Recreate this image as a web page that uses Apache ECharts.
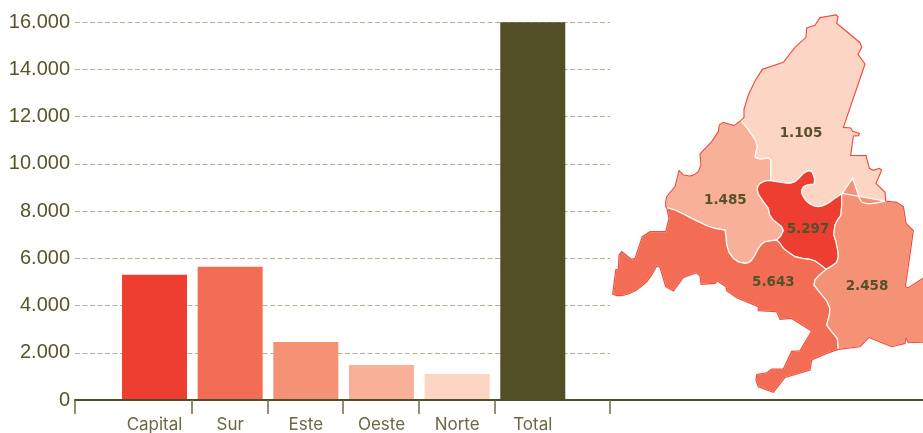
<!DOCTYPE html>
<html><head><meta charset="utf-8">
<style>html,body{margin:0;background:#fff}#c{width:923px;height:433px}</style>
<script src="https://cdn.jsdelivr.net/npm/echarts@6/dist/echarts.min.js"></script>
</head><body><div id="c"></div>
<script>
const categories = ['Capital','Sur','Este','Oeste','Norte','Total'];
const values = [5297,5643,2458,1485,1105,15988];
const barColors = ['#ee3e32','#f26d54','#f59175','#f9b098','#fcd5c4','#524f26'];
const yTicks = {min:0,max:16000,interval:2000};
const axisTickPositions = [0,117,193,268,344,420,535];

// Map outlines, in map units (3 units = 1 px)
const norteOuter = [[422,362],[432,352],[432,328],[445,285],[465,243],[487,208],[550,187],[585,142],[618,112],[620,84],[645,76],[660,53],[708,45],[714,50],[710,70],[780,128],[785,142],[774,163],[795,192],[730,382],[752,384],[758,394],[778,400],[776,407],[760,408],[752,466],[798,467],[808,505],[820,511],[838,505],[845,510],[828,550],[855,577],[857,603]];
const norteEste = [[857,603],[835,608],[815,611],[800,611],[785,606],[778,595],[770,570],[758,535],[742,558],[727,580]];
const norteCapital = [[727,580],[712,590],[700,598],[690,606],[680,612],[667,618],[655,620],[642,618],[630,612],[618,602],[610,590],[605,580],[605,570],[610,561],[620,555],[632,553],[642,552],[644,538],[640,525],[636,516],[630,512],[620,514],[610,520],[597,534],[585,545],[572,549],[560,549],[536,546],[512,542]];
const norteOeste = [[512,542],[512,480],[505,474],[492,476],[480,477],[465,472],[467,458],[472,440],[467,423],[458,408],[440,382],[422,362]];
const capitalOeste = [[512,542],[500,542],[490,545],[479,551],[473,560],[472,570],[475,582],[490,605],[505,625],[509,645],[520,660],[533,670],[545,680],[550,692],[542,708],[530,720]];
const capitalSur = [[530,720],[540,730],[550,745],[567,758],[585,770],[607,775],[630,778],[645,783],[660,793],[678,808]];
const capitalEste = [[678,808],[695,798],[710,787],[715,770],[714,755],[708,725],[701,703],[705,675],[714,658],[723,645],[725,615],[725,585],[727,580]];
const oesteOuter = [[422,362],[402,377],[370,367],[358,375],[355,395],[335,425],[300,462],[303,495],[295,515],[283,524],[270,528],[250,525],[237,512],[225,560],[200,590],[197,605],[197,620],[200,623]];
const oesteSur = [[200,623],[225,630],[250,642],[275,655],[300,667],[322,678],[345,685],[375,690],[378,710],[380,735],[387,757],[400,775],[415,786],[435,790],[447,787],[455,780],[465,765],[475,745],[485,732],[495,725],[515,722],[530,720]];
const surOuter = [[200,623],[207,655],[197,695],[150,695],[127,710],[105,775],[95,778],[65,755],[57,765],[55,807],[47,810],[42,850],[38,882],[50,887],[65,887],[85,882],[105,873],[125,858],[140,845],[155,825],[170,798],[180,802],[197,860],[220,873],[250,832],[290,818],[300,828],[303,853],[345,850],[352,843],[378,860],[380,872],[410,893],[475,920],[475,932],[530,935],[540,958],[575,955],[635,993],[600,1052],[575,1054],[550,1107],[515,1107],[500,1118],[470,1123],[468,1140],[475,1160],[520,1177],[555,1132],[630,1110],[635,1080],[680,1060],[715,1048]];
const surEste = [[715,1048],[712,1015],[695,995],[680,975],[688,945],[690,925],[680,902],[660,878],[642,855],[645,840],[655,828],[678,808]];
const esteOuter = [[715,1048],[780,1040],[807,1012],[875,1040],[915,1030],[918,1013],[925,1028],[969,1026],[990,1023],[990,835],[969,835],[925,863],[916,860],[940,692],[918,670],[910,620],[890,607],[857,603]];

const rev = a => a.slice().reverse();
const ring = (...parts) => { const r=[]; parts.forEach(p=>r.push(...p)); r.push(r[0].slice()); return r; };
const poly = (name, cp, coords) => ({type:'Feature',properties:{name,cp},geometry:{type:'Polygon',coordinates:[coords]}});
const labelAnchors = {Norte:[603,399],Oeste:[376,600],Capital:[624,687],Sur:[520,846],Este:[801,859]};
const features = [
  poly('Norte',labelAnchors.Norte,ring(norteOuter,norteEste,norteCapital,norteOeste)),
  poly('Oeste',labelAnchors.Oeste,ring(oesteOuter,oesteSur,rev(capitalOeste),norteOeste)),
  poly('Capital',labelAnchors.Capital,ring(capitalOeste,capitalSur,capitalEste,norteCapital)),
  poly('Sur',labelAnchors.Sur,ring(surOuter,surEste,rev(capitalSur),rev(oesteSur))),
  poly('Este',labelAnchors.Este,ring(esteOuter,rev(norteEste),rev(capitalEste),rev(surEste))),
  {type:'Feature',properties:{name:'Contorno'},geometry:{type:'MultiLineString',coordinates:[norteOuter,oesteOuter,surOuter,esteOuter]}}
];
echarts.registerMap('madrid',{type:'FeatureCollection',features});

const fmt = v => String(v).replace(/\B(?=(\d{3})+$)/g,'.');
const ink = '#57532c';
const B=400, T=22;
const chart = echarts.init(document.getElementById('c'));
chart.setOption({
  animation:false,
  grid:[
    {left:75,right:0,top:T,bottom:433-B},
    {left:75,width:535,top:T,bottom:433-B},
    {left:116.7,width:453.9,top:T,bottom:433-B}
  ],
  xAxis:[
    {gridIndex:0,type:'value',min:0,max:848,z:5,splitLine:{show:false},axisLabel:{show:false},
     axisLine:{show:true,lineStyle:{color:'#524f26',width:2}},
     axisTick:{show:true,customValues:axisTickPositions,length:14,lineStyle:{color:'#6d6a47',width:1.5}}},
    {gridIndex:1,type:'value',show:false,min:0,max:1},
    {gridIndex:2,type:'category',data:categories,axisLine:{show:false},axisTick:{show:false},
     axisLabel:{margin:16,color:'#6b6846',fontFamily:'Inter',fontSize:17,interval:0}}
  ],
  yAxis:[
    {gridIndex:0,type:'value',show:false,...yTicks},
    {gridIndex:1,type:'value',...yTicks,axisLine:{show:false},axisTick:{show:false},
     axisLabel:{margin:5,color:ink,fontFamily:'Liberation Sans',fontSize:20,formatter:fmt},
     splitLine:{show:true,lineStyle:{color:'#b4b09c',type:[5,2.5],width:1}}},
    {gridIndex:2,type:'value',show:false,...yTicks}
  ],
  series:[
    {type:'bar',xAxisIndex:2,yAxisIndex:2,barWidth:65,z:3,
     data:values.map((v,i)=>({value:v,itemStyle:{color:barColors[i]}}))},
    {type:'map',map:'madrid',silent:true,left:612.7,top:15,width:317.3,height:377.4,
     projection:{project:p=>p,unproject:p=>p},
     itemStyle:{borderColor:'#ffffff',borderWidth:1.2,areaColor:'#ffffff'},
     emphasis:{disabled:true},
     label:{show:true,color:'#55512a',fontFamily:'DejaVu Sans',fontWeight:'bold',fontSize:13.5,
       formatter:p=>isNaN(p.value)?'':fmt(p.value)},
     data:[
       ...categories.slice(0,5).map((n,i)=>({name:n,value:values[i],itemStyle:{areaColor:barColors[i]}})),
       {name:'Contorno',itemStyle:{borderColor:'#ef4b3f',borderWidth:1.2,areaColor:'none'}}
     ]}
  ]
});
</script></body></html>
